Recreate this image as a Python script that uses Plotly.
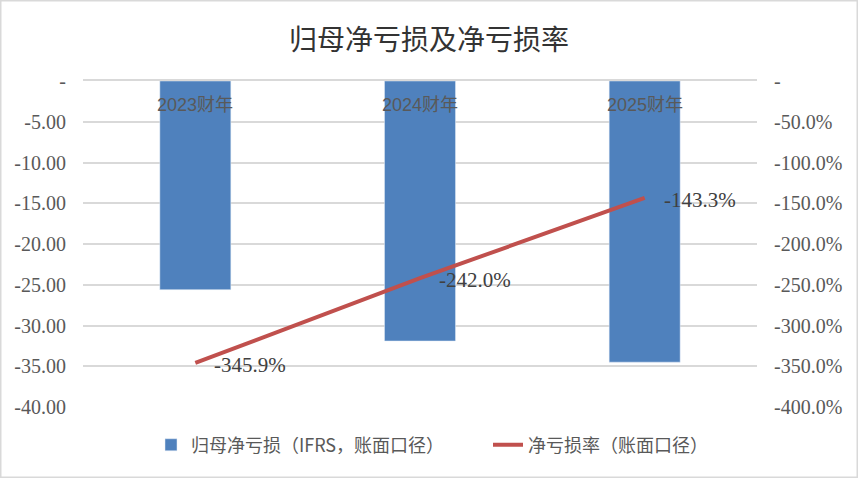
import plotly.graph_objects as go

categories = ["2023财年", "2024财年", "2025财年"]
net_loss = [-25.6, -31.9, -34.5]          # 归母净亏损
loss_rate = [-3.459, -2.420, -1.433]      # 净亏损率
loss_rate_labels = ["-345.9%", "-242.0%", "-143.3%"]

left_ticks = [0, -5, -10, -15, -20, -25, -30, -35, -40]
left_text = ["-", "-5.00", "-10.00", "-15.00", "-20.00", "-25.00", "-30.00", "-35.00", "-40.00"]
right_ticks = [0, -0.5, -1.0, -1.5, -2.0, -2.5, -3.0, -3.5, -4.0]
right_text = ["-", "-50.0%", "-100.0%", "-150.0%", "-200.0%", "-250.0%", "-300.0%", "-350.0%", "-400.0%"]

serif = "'Liberation Serif', 'Noto Sans CJK SC', serif"
grey = "#595959"

fig = go.Figure()
fig.add_trace(go.Bar(
    x=categories, y=net_loss, name="归母净亏损（IFRS，账面口径）",
    marker_color="#4f81bd", width=0.316,
))
fig.add_trace(go.Scatter(
    x=categories, y=loss_rate, name="净亏损率（账面口径）", yaxis="y2",
    mode="lines", line=dict(color="#c0504d", width=4),
))

# category labels sit just under the zero line, on top of the bars
for c in categories:
    fig.add_annotation(x=c, y=1, yref="paper", text=c, showarrow=False,
                       yanchor="middle", yshift=-24,
                       font=dict(family="'Liberation Sans', 'Noto Sans CJK SC'", size=18, color=grey))

# data labels to the right of each line point
for c, v, t in zip(categories, loss_rate, loss_rate_labels):
    fig.add_annotation(x=c, y=v, yref="y2", text=t, showarrow=False,
                       xanchor="left", yanchor="middle", xshift=17, yshift=-2,
                       font=dict(family=serif, size=21, color="#404040"))

fig.update_layout(
    width=858, height=478,
    margin=dict(l=83, r=101, t=81, b=71),
    paper_bgcolor="white", plot_bgcolor="white",
    title=dict(text="归母净亏损及净亏损率", x=0.5, xanchor="center", y=1 - 40 / 478, yanchor="middle",
               font=dict(family="'Noto Sans CJK SC'", size=28, color="#333333")),
    xaxis=dict(side="top", showticklabels=False,
               showline=True, linecolor="#d9d9d9", linewidth=2, ticks=""),
    yaxis=dict(range=[-40, 0], tickvals=left_ticks, ticktext=left_text,
               showgrid=True, gridcolor="#d9d9d9", gridwidth=1.5, zeroline=False,
               tickfont=dict(family=serif, size=20, color=grey), ticklabelstandoff=16),
    yaxis2=dict(range=[-4, 0], tickvals=right_ticks, ticktext=right_text,
                overlaying="y", side="right", showgrid=False, zeroline=False,
                tickfont=dict(family=serif, size=20, color=grey), ticklabelstandoff=16),
    legend=dict(orientation="h", x=(151 - 83) / 674, xanchor="left", y=-0.06, yanchor="top",
                entrywidth=292, entrywidthmode="pixels",
                font=dict(family="'Noto Sans CJK SC'", size=18, color=grey)),
    showlegend=True,
    shapes=[dict(type="rect", xref="paper", yref="paper", x0=-83 / 674, x1=1 + 101 / 674,
                 y0=-71 / 326, y1=1 + 81 / 326, line=dict(color="#d9d9d9", width=3))],
)

fig.write_html("out.html", config={"displayModeBar": False},
               post_script="document.body.style.margin='0';")
